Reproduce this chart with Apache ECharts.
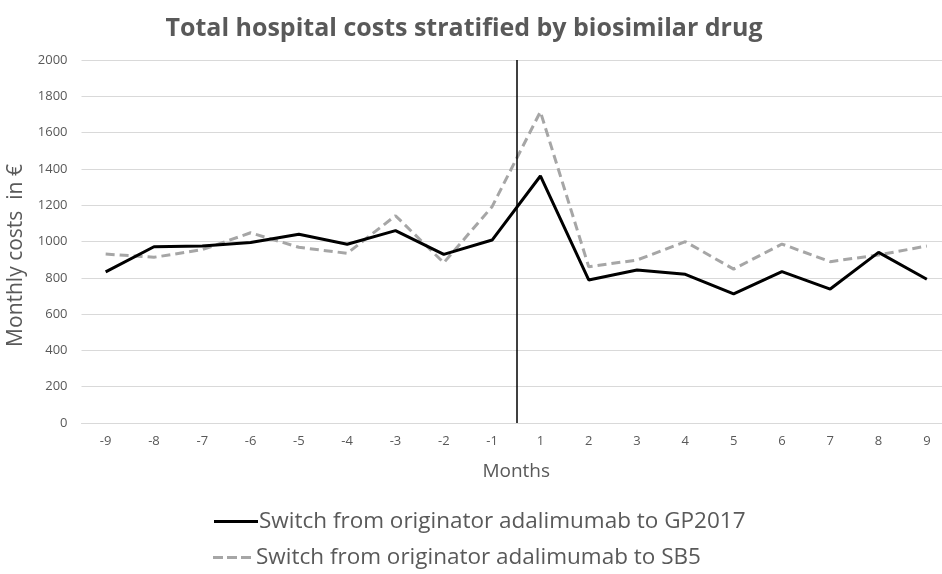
<!DOCTYPE html>
<html>
<head>
<meta charset="utf-8">
<script src="https://cdn.jsdelivr.net/npm/echarts@6/dist/echarts.min.js"></script>
<style>html,body{margin:0;padding:0;background:#fff}#c{width:942px;height:574px}</style>
</head>
<body>
<div id="c"></div>
<script>
const months = ['-9','-8','-7','-6','-5','-4','-3','-2','-1','1','2','3','4','5','6','7','8','9'];
const gp2017 = [833, 971, 975, 995, 1040, 985, 1060, 929, 1008, 1361, 788, 843, 819, 711, 834, 738, 940, 792];
const sb5 = [931, 913, 955, 1048, 968, 935, 1142, 883, 1192, 1715, 861, 898, 999, 848, 986, 889, 926, 975];
const yTicks = { min: 0, max: 2000, interval: 200 };
const switchPoint = 8.5; // boundary between month -1 and month 1
const seriesNames = ['Switch from originator adalimumab to GP2017', 'Switch from originator adalimumab to SB5'];

const font = '"Open Sans", sans-serif';
const legendText = { fontFamily: font, fontSize: 22.5, color: '#595959' };
const chart = echarts.init(document.getElementById('c'), null, { renderer: 'canvas' });
chart.setOption({
  animation: false,
  backgroundColor: '#fff',
  title: {
    text: 'Total hospital costs stratified by biosimilar drug',
    left: 459, top: 11, textAlign: 'center',
    textStyle: { fontFamily: font, fontWeight: 'bold', fontSize: 25, color: '#595959' }
  },
  legend: [{
    orient: 'vertical', left: 214, top: 510, padding: 0,
    itemWidth: 44, itemHeight: 3,
    icon: 'path://M0,0h44v3h-44z',
    textStyle: Object.assign({}, legendText, { padding: [0,0,0,-4] }),
    data: [seriesNames[0]]
  }, {
    orient: 'vertical', left: 213, top: 546, padding: 0,
    itemWidth: 38, itemHeight: 3,
    icon: 'path://M0,0h10v3h-10z M14,0h10v3h-10z M28,0h10v3h-10z',
    textStyle: Object.assign({}, legendText, { padding: [0,0,0,0] }),
    data: [seriesNames[1]]
  }],
  grid: { left: 81.5, width: 869.5, top: 60, bottom: 151, containLabel: false, outerBoundsMode: 'none' },
  xAxis: [{
    type: 'category', data: months, boundaryGap: true,
    name: 'Months', nameLocation: 'middle', nameGap: 39,
    nameTextStyle: { fontFamily: font, fontSize: 19, color: '#595959' },
    axisLine: { show: true, lineStyle: { color: '#d9d9d9' } },
    axisTick: { show: false },
    axisLabel: { fontFamily: font, fontSize: 13, color: '#595959', margin: 12 },
    splitLine: { show: false }
  }, {
    type: 'value', min: -0.5, max: 17.5, show: false
  }],
  yAxis: {
    type: 'value', min: yTicks.min, max: yTicks.max, interval: yTicks.interval,
    name: 'Monthly costs  in €', nameLocation: 'middle', nameGap: 42,
    nameTextStyle: { fontFamily: font, fontSize: 21, color: '#595959', padding: [0, 28, 0, 0] },
    axisLine: { show: false }, axisTick: { show: false },
    axisLabel: { fontFamily: font, fontSize: 13, color: '#595959', margin: 14, formatter: v => String(v) },
    splitLine: { lineStyle: { color: '#d9d9d9', width: 1 } }
  },
  series: [{
    name: seriesNames[0], type: 'line', data: gp2017, symbol: 'none',
    itemStyle: { color: '#000' },
    lineStyle: { color: '#000', width: 3 }, z: 3
  }, {
    name: seriesNames[1], type: 'line', data: sb5, symbol: 'none',
    itemStyle: { color: '#a6a6a6' },
    lineStyle: { color: '#a6a6a6', width: 3, type: [9, 5] }, z: 2
  }, {
    type: 'line', xAxisIndex: 1, data: [], silent: true,
    markLine: {
      silent: true, symbol: 'none', label: { show: false },
      lineStyle: { color: '#000', width: 1.5, type: 'solid' },
      data: [{ xAxis: switchPoint }]
    }
  }]
});
</script>
</body>
</html>
